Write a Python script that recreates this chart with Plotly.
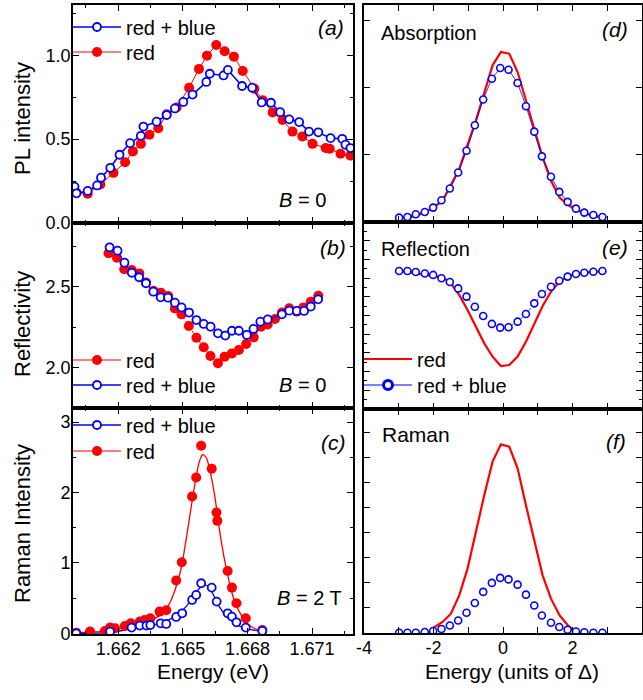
import plotly.graph_objects as go

# ---------------- data ----------------
# Panel (a) PL intensity, B = 0
a_red_x = [1.66006, 1.66058, 1.66117, 1.66178, 1.66232, 1.66268, 1.66305, 1.66345, 1.66386, 1.66425,
           1.66471, 1.66529, 1.66575, 1.66612, 1.66655, 1.66694, 1.66737, 1.66778, 1.66832, 1.66871,
           1.66917, 1.66963, 1.67009, 1.67055, 1.67102, 1.67163, 1.67182, 1.67232, 1.67278]
a_red_y = [0.181, 0.175, 0.230, 0.299, 0.362, 0.427, 0.472, 0.526, 0.565, 0.648,
           0.689, 0.807, 0.919, 0.998, 1.061, 1.024, 0.992, 0.906, 0.801, 0.732,
           0.659, 0.614, 0.545, 0.516, 0.472, 0.447, 0.443, 0.413, 0.402]
a_blue_x = [1.65997, 1.66006, 1.66058, 1.66102, 1.66120, 1.66163, 1.66206, 1.66255, 1.66305, 1.66317,
            1.66378, 1.66425, 1.66463, 1.66502, 1.66545, 1.66609, 1.66625, 1.66689, 1.66709, 1.66775,
            1.66822, 1.66866, 1.66909, 1.66952, 1.66994, 1.67040, 1.67086, 1.67129, 1.67186, 1.67240,
            1.67255, 1.67278]
a_blue_y = [0.217, 0.177, 0.191, 0.224, 0.270, 0.329, 0.407, 0.476, 0.520, 0.575,
            0.604, 0.644, 0.683, 0.722, 0.766, 0.841, 0.890, 0.880, 0.913, 0.817,
            0.807, 0.719, 0.717, 0.661, 0.618, 0.602, 0.545, 0.541, 0.506, 0.502,
            0.467, 0.447]

# Panel (b) Reflectivity, B = 0
b_red_x = [1.66155, 1.66194, 1.66228, 1.66263, 1.66298, 1.66329, 1.66363, 1.66398, 1.66432, 1.66463,
           1.66494, 1.66528, 1.66563, 1.66597, 1.66628, 1.66663, 1.66694, 1.66728, 1.66760, 1.66794,
           1.66829, 1.66863, 1.66894, 1.66928, 1.66960, 1.66994, 1.67029, 1.67060, 1.67094, 1.67129]
b_red_y = [2.706, 2.679, 2.607, 2.603, 2.582, 2.525, 2.475, 2.463, 2.442, 2.366,
           2.329, 2.257, 2.185, 2.126, 2.072, 2.027, 2.068, 2.088, 2.109, 2.146,
           2.187, 2.253, 2.267, 2.300, 2.340, 2.366, 2.346, 2.372, 2.407, 2.444]
b_blue_x = [1.66160, 1.66197, 1.66229, 1.66263, 1.66297, 1.66329, 1.66363, 1.66397, 1.66431, 1.66463,
            1.66494, 1.66529, 1.66563, 1.66597, 1.66629, 1.66663, 1.66697, 1.66728, 1.66760, 1.66797,
            1.66828, 1.66860, 1.66894, 1.66960, 1.66994, 1.67029, 1.67063, 1.67094, 1.67128]
b_blue_y = [2.743, 2.722, 2.648, 2.586, 2.558, 2.521, 2.469, 2.434, 2.432, 2.401,
            2.372, 2.340, 2.294, 2.270, 2.253, 2.212, 2.198, 2.228, 2.228, 2.202,
            2.239, 2.284, 2.298, 2.329, 2.352, 2.350, 2.350, 2.377, 2.422]

# Panel (c) Raman intensity, B = 2 T
c_red_x = [1.66005, 1.66069, 1.66138, 1.66162, 1.66185, 1.66231, 1.66258, 1.66300, 1.66323, 1.66349,
           1.66392, 1.66423, 1.66469, 1.66495, 1.66543, 1.66562, 1.66585, 1.66634, 1.66656, 1.66660,
           1.66708, 1.66728, 1.66749, 1.66792, 1.66869]
c_red_y = [0.009, 0.024, 0.033, 0.081, 0.071, 0.104, 0.142, 0.166, 0.190, 0.213,
           0.308, 0.327, 0.749, 1.009, 1.943, 2.213, 2.664, 2.336, 1.716, 1.597,
           0.886, 0.649, 0.427, 0.213, 0.047]
c_blue_x = [1.66005, 1.66162, 1.66262, 1.66300, 1.66331, 1.66349, 1.66397, 1.66423, 1.66469, 1.66497,
            1.66543, 1.66562, 1.66585, 1.66634, 1.66657, 1.66708, 1.66728, 1.66749, 1.66792, 1.66869]
c_blue_y = [0.000, 0.024, 0.081, 0.109, 0.109, 0.118, 0.142, 0.133, 0.232, 0.284,
            0.474, 0.545, 0.711, 0.649, 0.450, 0.284, 0.237, 0.156, 0.081, 0.033]
c_redfit_x = [1.66005, 1.66115, 1.66192, 1.66269, 1.66346, 1.66392, 1.66423, 1.66446, 1.66469, 1.66492,
              1.66515, 1.66538, 1.66562, 1.66577, 1.66592, 1.66608, 1.66623, 1.66646, 1.66669, 1.66692,
              1.66715, 1.66738, 1.66762, 1.66792, 1.66823, 1.66869]
c_redfit_y = [0.009, 0.024, 0.057, 0.109, 0.180, 0.251, 0.346, 0.474, 0.664, 0.924,
              1.327, 1.777, 2.227, 2.441, 2.536, 2.498, 2.346, 1.991, 1.493, 1.066,
              0.735, 0.474, 0.308, 0.166, 0.085, 0.033]
c_bluefit_x = [1.66005, 1.66162, 1.66269, 1.66346, 1.66423, 1.66469, 1.66515, 1.66554, 1.66577, 1.66600,
               1.66623, 1.66646, 1.66669, 1.66700, 1.66731, 1.66762, 1.66800, 1.66869]
c_bluefit_y = [0.000, 0.014, 0.071, 0.109, 0.175, 0.251, 0.379, 0.545, 0.640, 0.687,
               0.649, 0.521, 0.379, 0.251, 0.166, 0.104, 0.062, 0.028]

# Panels (d)-(f): model, energy in units of Delta
m_blue_x = [-2.99, -2.75, -2.51, -2.25, -2.01, -1.77, -1.53, -1.29, -1.05, -0.81, -0.57, -0.32, -0.08,
            0.16, 0.42, 0.66, 0.90, 1.12, 1.38, 1.62, 1.86, 2.10, 2.34, 2.60, 2.86]
d_blue_y = [0.065, 0.075, 0.115, 0.149, 0.214, 0.324, 0.498, 0.737, 1.061, 1.440, 1.824, 2.133, 2.292,
            2.267, 2.068, 1.724, 1.345, 0.977, 0.673, 0.448, 0.299, 0.199, 0.140, 0.105, 0.075]
d_red_x = [-2.75, -2.22, -1.74, -1.26, -0.78, -0.54, -0.30, -0.06, 0.18, 0.42, 0.66, 0.90, 1.14,
           1.38, 1.63, 1.87, 2.11, 2.59, 2.86]
d_red_y = [0.055, 0.140, 0.314, 0.787, 1.510, 1.908, 2.332, 2.531, 2.506, 2.232, 1.809, 1.385, 0.962,
           0.613, 0.364, 0.254, 0.174, 0.090, 0.065]

e_blue_y = [0.738, 0.738, 0.733, 0.725, 0.717, 0.699, 0.679, 0.645, 0.601, 0.547, 0.497, 0.455, 0.435,
            0.437, 0.467, 0.508, 0.565, 0.615, 0.654, 0.686, 0.708, 0.722, 0.729, 0.734, 0.738]
e_red_x = [-2.99, -1.74, -1.50, -1.26, -1.02, -0.78, -0.54, -0.30, -0.06, 0.18, 0.42, 0.66, 0.90,
           1.14, 1.38, 1.63, 1.87, 2.35, 2.86]
e_red_y = [0.738, 0.704, 0.672, 0.610, 0.529, 0.440, 0.351, 0.280, 0.230, 0.235, 0.280, 0.360, 0.458,
           0.551, 0.627, 0.681, 0.711, 0.729, 0.738]

f_blue_y = [0.00, 0.00, 0.00, 0.03, 0.07, 0.15, 0.29, 0.49, 0.80, 1.19, 1.63, 1.99, 2.19,
            2.13, 1.92, 1.52, 1.09, 0.69, 0.40, 0.23, 0.12, 0.05, 0.02, 0.00, 0.00]
f_red_x = [-2.01, -1.74, -1.50, -1.26, -1.02, -0.78, -0.54, -0.30, -0.06, 0.18, 0.42, 0.66, 0.90,
           1.14, 1.38, 1.63, 1.87, 2.01]
f_red_y = [0.19, 0.43, 0.76, 1.49, 2.56, 4.03, 5.49, 6.83, 7.52, 7.43, 6.56, 5.09, 3.63,
           2.29, 1.36, 0.69, 0.29, 0.13]

energy_ticks = [1.662, 1.665, 1.668, 1.671]
delta_ticks = [-4, -2, 0, 2, 4]
delta_labels = ["-4", "-2", "0", "2", "4"]

# ---------------- styling ----------------
W, H = 643, 700
RED = "#ff0000"
BLUE = "#0000ff"
FONT = "Liberation Sans, Arial, sans-serif"


def px(v):
    return v / W


def py(v):
    return 1 - v / H


RED_MK = dict(color=RED, size=10)
BLUE_MK = dict(color="white", size=8, line=dict(color=BLUE, width=1.8))
BLUE_MK_S = dict(color="white", size=7, line=dict(color=BLUE, width=1.6))

fig = go.Figure()


def legend_entry(name, xa, ya, leg, line, marker=None):
    mode = "lines+markers" if marker else "lines"
    kw = dict(marker=marker) if marker else {}
    fig.add_trace(go.Scatter(x=[None], y=[None], mode=mode, name=name, line=line,
                             xaxis=xa, yaxis=ya, legend=leg, hoverinfo="skip", **kw))


# panel (a)
fig.add_trace(go.Scatter(x=a_red_x, y=a_red_y, mode="lines+markers", line=dict(color=RED, width=1),
                         marker=RED_MK, showlegend=False, xaxis="x", yaxis="y"))
fig.add_trace(go.Scatter(x=a_blue_x, y=a_blue_y, mode="lines+markers", line=dict(color=BLUE, width=1.6),
                         marker=BLUE_MK, showlegend=False, xaxis="x", yaxis="y"))
legend_entry("red + blue", "x", "y", "legend", dict(color=BLUE, width=1.6), BLUE_MK)
legend_entry("red", "x", "y", "legend2", dict(color=RED, width=1), RED_MK)
# panel (b)
fig.add_trace(go.Scatter(x=b_red_x, y=b_red_y, mode="lines+markers", line=dict(color=RED, width=1, dash="dot"),
                         marker=RED_MK, showlegend=False, xaxis="x2", yaxis="y2"))
fig.add_trace(go.Scatter(x=b_blue_x, y=b_blue_y, mode="lines+markers", line=dict(color=BLUE, width=1),
                         marker=BLUE_MK, showlegend=False, xaxis="x2", yaxis="y2"))
legend_entry("red", "x2", "y2", "legend3", dict(color=RED, width=1), RED_MK)
legend_entry("red + blue", "x2", "y2", "legend4", dict(color=BLUE, width=1.6), BLUE_MK)
# panel (c)
fig.add_trace(go.Scatter(x=c_redfit_x, y=c_redfit_y, mode="lines", line=dict(color=RED, width=1.3, shape="spline"),
                         showlegend=False, xaxis="x3", yaxis="y3"))
fig.add_trace(go.Scatter(x=c_bluefit_x, y=c_bluefit_y, mode="lines", line=dict(color=BLUE, width=1.3, shape="spline"),
                         showlegend=False, xaxis="x3", yaxis="y3"))
fig.add_trace(go.Scatter(x=c_red_x, y=c_red_y, mode="markers", marker=RED_MK,
                         showlegend=False, xaxis="x3", yaxis="y3"))
fig.add_trace(go.Scatter(x=c_blue_x, y=c_blue_y, mode="markers", marker=BLUE_MK,
                         showlegend=False, xaxis="x3", yaxis="y3"))
legend_entry("red + blue", "x3", "y3", "legend5", dict(color=BLUE, width=1.6), BLUE_MK)
legend_entry("red", "x3", "y3", "legend6", dict(color=RED, width=1), RED_MK)
# panel (d)
fig.add_trace(go.Scatter(x=d_red_x, y=d_red_y, mode="lines", line=dict(color=RED, width=2.2),
                         showlegend=False, xaxis="x4", yaxis="y4"))
fig.add_trace(go.Scatter(x=m_blue_x, y=d_blue_y, mode="lines+markers", line=dict(color=BLUE, width=0.8),
                         marker=BLUE_MK_S, showlegend=False, xaxis="x4", yaxis="y4"))
# panel (e)
fig.add_trace(go.Scatter(x=e_red_x, y=e_red_y, mode="lines", line=dict(color=RED, width=2.2),
                         showlegend=False, xaxis="x5", yaxis="y5"))
fig.add_trace(go.Scatter(x=m_blue_x, y=e_blue_y, mode="lines+markers", line=dict(color=BLUE, width=0.8, dash="dot"),
                         marker=BLUE_MK_S, showlegend=False, xaxis="x5", yaxis="y5"))
legend_entry("red", "x5", "y5", "legend7", dict(color=RED, width=2.2))
legend_entry("red + blue", "x5", "y5", "legend8", dict(color=BLUE, width=1),
             dict(color="white", size=9, line=dict(color=BLUE, width=3)))
# panel (f)
fig.add_trace(go.Scatter(x=f_red_x, y=f_red_y, mode="lines", line=dict(color=RED, width=2.2),
                         showlegend=False, xaxis="x6", yaxis="y6"))
fig.add_trace(go.Scatter(x=m_blue_x, y=f_blue_y, mode="markers", marker=BLUE_MK_S,
                         showlegend=False, xaxis="x6", yaxis="y6"))

LX = [px(73), px(353)]
RX = [px(364), px(642)]
YA = [py(223), py(5)]
YB = [py(408), py(223)]
YC = [py(634), py(408)]
YD = [py(222), py(5)]
YE = [py(409), py(222)]
YF = [py(633), py(409)]

base = dict(showline=True, linecolor="black", linewidth=1.6, mirror="ticks", ticks="inside",
            ticklen=6, tickwidth=1.3, tickcolor="black", showgrid=False, zeroline=False,
            automargin=False, tickfont=dict(family=FONT, size=18, color="black"))


def minor(d, ln=3):
    return dict(ticks="inside", ticklen=ln, tickwidth=1.1, tickcolor="black", dtick=d, showgrid=False)


ex_common = dict(range=[1.6599, 1.6729], tickvals=energy_ticks, minor=minor(0.0015))
dx_common = dict(range=[-4, 4], tickvals=delta_ticks, ticktext=delta_labels, minor=minor(1, 6))
ly = dict(ticklabelstandoff=-3)
lx = dict(ticklabelstandoff=-2)

fig.update_layout(
    xaxis=dict(base, domain=LX, anchor="y", showticklabels=False, **ex_common),
    yaxis=dict(base, domain=YA, anchor="x", range=[0, 1.3], tick0=0, dtick=0.5, tickformat=".1f",
               minor=minor(0.25), **ly),
    xaxis2=dict(base, domain=LX, anchor="y2", showticklabels=False, **ex_common),
    yaxis2=dict(base, domain=YB, anchor="x2", range=[1.751, 2.893], tick0=0, dtick=0.5, tickformat=".1f",
                minor=minor(0.25), **ly),
    xaxis3=dict(base, domain=LX, anchor="y3", tickformat=".3f", **ex_common, **lx),
    yaxis3=dict(base, domain=YC, anchor="x3", range=[-0.01, 3.2], tick0=0, dtick=1, minor=minor(0.5), **ly),
    xaxis4=dict(base, domain=RX, anchor="y4", showticklabels=False, **dx_common),
    yaxis4=dict(base, domain=YD, anchor="x4", range=[0, 3.23], tick0=0, dtick=1, showticklabels=False),
    xaxis5=dict(base, domain=RX, anchor="y5", showticklabels=False, **dx_common),
    yaxis5=dict(base, domain=YE, anchor="x5", range=[0, 1.0], tick0=0, dtick=0.1, showticklabels=False,
                minor=minor(0.05)),
    xaxis6=dict(base, domain=RX, anchor="y6", **dx_common, **lx),
    yaxis6=dict(base, domain=YF, anchor="x6", range=[-0.01, 8.93], tick0=0, dtick=1, showticklabels=False),
    width=W, height=H, margin=dict(l=0, r=0, t=0, b=0),
    paper_bgcolor="white", plot_bgcolor="white",
    font=dict(family=FONT, size=20, color="black"),
)

leg = dict(bgcolor="rgba(0,0,0,0)", borderwidth=0, xanchor="left", yanchor="top", itemwidth=48,
           font=dict(family=FONT, size=20, color="black"), itemclick=False, itemdoubleclick=False)
OFF = 20.5  # distance from legend top to item centre
legend_pos = {
    "legend": (68, 28), "legend2": (68, 53),
    "legend3": (68, 361), "legend4": (68, 386),
    "legend5": (68, 426), "legend6": (68, 452),
    "legend7": (359, 360), "legend8": (359, 386),
}
fig.update_layout(**{k: dict(leg, x=px(x), y=py(y - OFF)) for k, (x, y) in legend_pos.items()})

ann = []


def text(x, y, t, size=20, xanchor="center", angle=0):
    ann.append(dict(x=px(x), y=py(y), xref="paper", yref="paper", text=t, showarrow=False,
                    xanchor=xanchor, yanchor="middle", textangle=angle,
                    font=dict(family=FONT, size=size, color="black")))


text(331, 27, "<i>(a)</i>", 21)
text(333, 247, "<i>(b)</i>", 21)
text(333, 442, "<i>(c)</i>", 21)
text(615, 30, "<i>(d)</i>", 21)
text(615, 247, "<i>(e)</i>", 21)
text(616, 441, "<i>(f)</i>", 21)
text(302, 200, "<i>B</i> = 0", 20)
text(302, 385, "<i>B</i> = 0", 20)
text(309, 598, "<i>B</i> = 2 T", 20)
text(379, 33, "Absorption", 20, "left")
text(379, 249, "Reflection", 20, "left")
text(380, 434, "Raman", 21, "left")
text(213, 671, "Energy (eV)", 21)
text(512, 671, "Energy (units of Δ)", 21)
text(22, 119, "PL intensity", 22, angle=-90)
text(22, 324, "Reflectivity", 22, angle=-90)
text(22, 524, "Raman Intensity", 22, angle=-90)
fig.update_layout(annotations=ann)

fig.write_html("out.html", config={"displayModeBar": False},
               post_script="document.body.style.margin='0';document.body.style.padding='0';")
